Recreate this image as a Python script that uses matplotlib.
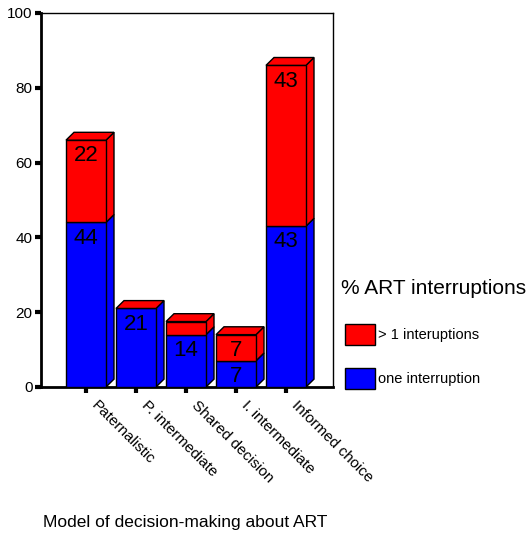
import numpy as np
import matplotlib.pyplot as plt
import matplotlib.transforms as mtransforms
from matplotlib.patches import Polygon, Patch

plt.rcParams['font.family'] = ['Liberation Sans', 'DejaVu Sans']

# data (percent of patients per model)
categories = ['Paternalistic', 'P. intermediate', 'Shared decision',
              'I. intermediate', 'Informed choice']
one_interruption = [44, 21, 14, 7, 43]
more_interruptions = [22, 0, 3.5, 7, 43]
series_names = ['one interruption', '> 1 interuptions']
series_colors = ['#0000ff', '#ff0000']

fig = plt.figure(figsize=(5.28, 5.37), dpi=100)
W, H = 528, 537
ax = fig.add_axes([41 / W, (H - 387) / H, 292 / W, 374 / H])

x = np.arange(len(categories))
width = 0.8
dx, dy = 0.16, 2.1   # fake 3D depth

def draw_3d(ax, xc, bottom, height, color):
    x1 = xc + width / 2
    ax.bar(xc, height, width, bottom=bottom, color=color, edgecolor='black',
           linewidth=1, zorder=3)
    side = [(x1, bottom), (x1 + dx, bottom + dy),
            (x1 + dx, bottom + height + dy), (x1, bottom + height)]
    ax.add_patch(Polygon(side, closed=True, facecolor=color, edgecolor='black',
                         linewidth=1, zorder=2))

for i, xc in enumerate(x):
    b = one_interruption[i]
    r = more_interruptions[i]
    draw_3d(ax, xc, 0, b, series_colors[0])
    if r > 0:
        draw_3d(ax, xc, b, r, series_colors[1])
    top = b + r
    x0, x1 = xc - width / 2, xc + width / 2
    top_face = [(x0, top), (x0 + dx, top + dy), (x1 + dx, top + dy), (x1, top)]
    ax.add_patch(Polygon(top_face, closed=True, facecolor=series_colors[1],
                         edgecolor='black', linewidth=1, zorder=4))
    # value labels
    if b >= 5:
        ax.text(xc, b - 1.4, f'{b:g}', ha='center', va='top', fontsize=16, zorder=5)
    if r >= 5:
        ax.text(xc, b + r - 1.4, f'{r:g}', ha='center', va='top', fontsize=16, zorder=5)

ax.set_xlim(-0.9, 4.94)
ax.set_ylim(0, 100)
ax.set_yticks([0, 20, 40, 60, 80, 100])
ax.set_xticks(x)
ax.set_xticklabels([])
# rotated category labels, a bit right of each tick
offset = mtransforms.ScaledTranslation(13 / 100, -11 / 100, fig.dpi_scale_trans)
for xc, cat in zip(x, categories):
    ax.text(xc, 0, cat, rotation=-45, ha='left', va='top', rotation_mode='anchor',
            fontsize=11, transform=ax.get_xaxis_transform() + offset, clip_on=False)
ax.tick_params(axis='y', labelsize=11, length=4, width=3, pad=2)
ax.tick_params(axis='x', length=4, width=3)
for s in ['left', 'bottom']:
    ax.spines[s].set_linewidth(2)
for s in ['top', 'right']:
    ax.spines[s].set_linewidth(1)

fig.text(185 / W, 1 - 522 / H, 'Model of decision-making about ART',
         ha='center', va='center', fontsize=12.5)

# legend: title as separate text so it can sit left of the boxes
fig.text(341 / W, 1 - 289 / H, '% ART interruptions', ha='left', va='center',
         fontsize=15)
handles = [Patch(facecolor=series_colors[1], edgecolor='black', label=series_names[1]),
           Patch(facecolor=series_colors[0], edgecolor='black', label=series_names[0])]
leg = fig.legend(handles=handles, loc='upper left',
                 bbox_to_anchor=(335 / W, 1 - 314 / H), frameon=False,
                 fontsize=10.5, handlelength=2.06,
                 handleheight=1.84, labelspacing=1.55, handletextpad=0.2,
                 borderpad=0.2)

fig.savefig('out.png', dpi=100)
